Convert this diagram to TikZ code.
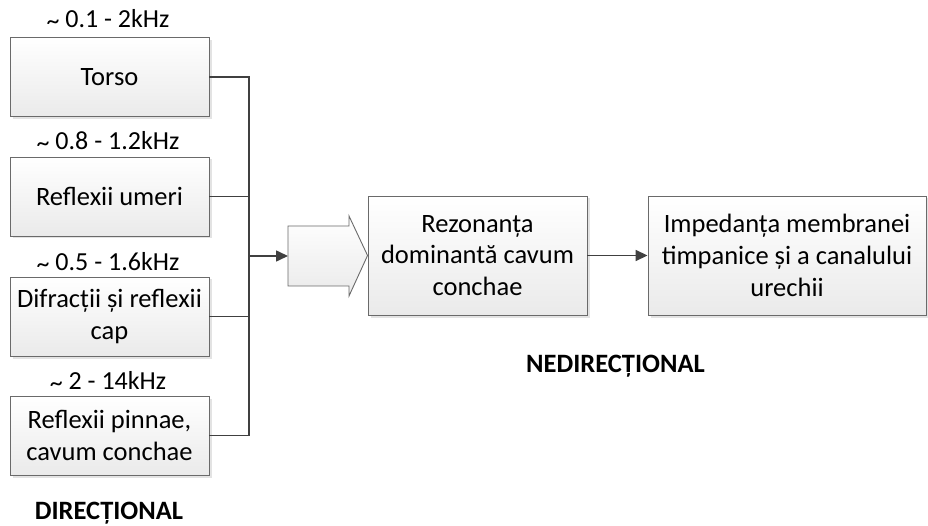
\documentclass[tikz,border=0pt]{standalone}
\usepackage{fontspec}
\setmainfont{Carlito}
\usetikzlibrary{arrows.meta,shadows}
\definecolor{edge}{HTML}{6A6A6A}
\definecolor{wire}{HTML}{404040}
\definecolor{boxbot}{HTML}{EAEAEA}
\tikzset{
  blk/.style={draw=edge, line width=0.9pt, top color=white, bottom color=boxbot,
    inner sep=0pt, align=center, font=\fontsize{26.5}{31.7}\selectfont,
    drop shadow={shadow xshift=2.5pt, shadow yshift=-2.5pt, fill=black!18, opacity=0.6}},
  leftblk/.style={blk, minimum width=199pt, minimum height=79pt},
  midblk/.style={blk, minimum height=119pt},
  freq/.style={inner sep=0pt, font=\fontsize{26}{30}\selectfont},
  title/.style={inner sep=0pt, font=\fontsize{26.5}{31}\selectfont\bfseries},
  wireline/.style={draw=wire, line width=1.6pt},
  tip/.style={-{Triangle[length=12pt,width=11pt]}}
}
\newcommand{\tld}{\raisebox{-2pt}{\textasciitilde}}
\begin{document}
\begin{tikzpicture}[x=1pt,y=-1pt]
\useasboundingbox (0,0) rectangle (928,526);
\fill[white] (0,0) rectangle (928,526);
% left column
\node[leftblk] (torso)  at (109.5,77)    {Torso};
\node[leftblk] (umeri)  at (109.5,196.5) {Reflexii umeri};
\node[leftblk] (difr)   at (109.5,316.5) {Difracții și reflexii\\cap};
\node[leftblk] (pinnae) at (109.5,435.5) {Reflexii pinnae,\\cavum conchae};
\node[freq] (f1) at (108,19)  {\tld\ 0.1 - 2kHz};
\node[freq] (f2) at (108,141) {\tld\ 0.8 - 1.2kHz};
\node[freq] (f3) at (108,262) {\tld\ 0.5 - 1.6kHz};
\node[freq] (f4) at (108,381) {\tld\ 2 - 14kHz};
% middle blocks
\node[midblk, minimum width=219pt] (rez) at (477.5,255.5) {Rezonanța\\dominantă cavum\\conchae};
\node[midblk, minimum width=278pt] (imp) at (787,255.5) {Impedanța membranei\\timpanice și a canalului\\urechii};
% bus
\coordinate (bus) at (249,256);
\coordinate (arrin) at (288,256);
\draw[wireline] (torso.east) -| (bus);
\draw[wireline] (pinnae.east) -| (bus);
\draw[wireline] (umeri.east) -- (umeri.east -| bus);
\draw[wireline] (difr.east) -- (difr.east -| bus);
\draw[wireline, tip] (bus) -- (arrin);
% block arrow
\path[draw=edge, line width=0.9pt, top color=white, bottom color=boxbot]
  (288,226) -- (349,226) -- (349,216) -- (rez.west) -- (349,296) -- (349,286) -- (288,286) -- cycle;
\draw[wireline, tip] (rez.east) -- (imp.west);
% titles
\node[title] (t1) at (615.5,366) {NEDIRECȚIONAL};
\node[title] (t2) at (109,513) {DIRECȚIONAL};
\end{tikzpicture}
\end{document}
